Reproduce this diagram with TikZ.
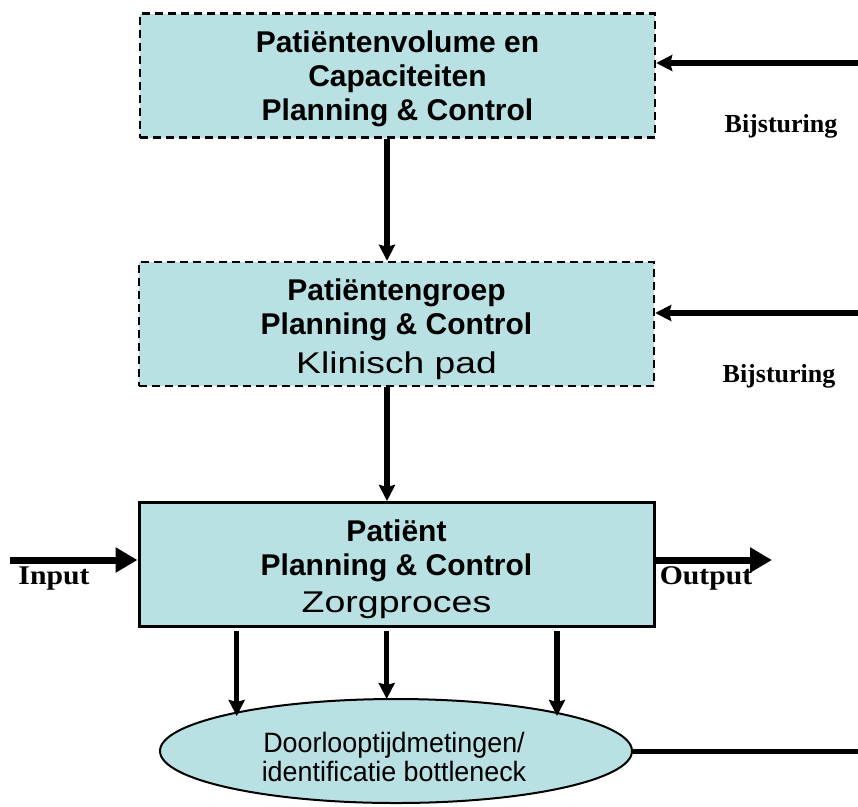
\documentclass[tikz,border=0pt]{standalone}
\usepackage{fontspec}
\setmainfont{Liberation Serif}
\setsansfont{Liberation Sans}
\usetikzlibrary{arrows.meta,shapes.geometric}
\definecolor{boxfill}{RGB}{185,224,227}
\tikzset{
  pbox/.style={draw=black, fill=boxfill, minimum width=515pt, minimum height=124pt, inner sep=0pt},
  dashbox/.style={pbox, line width=2.4pt, dash pattern=on 8pt off 5pt},
  solidbox/.style={pbox, line width=3pt},
  boxtext/.style={align=center, inner sep=0pt, font=\sffamily\bfseries\fontsize{30}{34}\selectfont},
  ellnode/.style={draw=black, fill=boxfill, ellipse, line width=2pt, minimum width=472pt, minimum height=104pt, inner sep=0pt},
  elltext/.style={align=center, inner sep=0pt,
    font=\sffamily\fontsize{28}{29}\selectfont\addfontfeature{FakeStretch=0.96}},
  arr/.style={line width=5.5pt, -{Stealth[length=16pt,width=16pt,inset=2pt]}},
  bigarr/.style={line width=7pt, -{Triangle[length=22pt,width=24pt]}},
  plain/.style={line width=5pt},
  lbl/.style={font=\rmfamily\bfseries\fontsize{26}{30}\selectfont, anchor=base, inner sep=0pt},
  iolbl/.style={font=\rmfamily\bfseries\fontsize{27}{30}\selectfont\addfontfeature{FakeStretch=1.1}, anchor=base, inner sep=0pt}
}
\begin{document}
\begin{tikzpicture}[x=1pt,y=-1pt]
\useasboundingbox (0,0) rectangle (858,806);

\node[dashbox] (b1) at (397.5,75.5) {};
\node[boxtext] (b1t) at (397.5,79) {Patiëntenvolume en\\Capaciteiten\\Planning \& Control};
\node[dashbox] (b2) at (396.5,324) {};
\node[boxtext] (b2t) at (396.5,329) {Patiëntengroep\\Planning \& Control\\[5pt]{\mdseries\fontsize{30}{34}\selectfont\addfontfeature{FakeStretch=1.24}Klinisch pad}};
\node[solidbox] (b3) at (396.5,564.5) {};
\node[boxtext] (b3t) at (396.5,569.5) {Patiënt\\Planning \& Control\\[3pt]{\mdseries\fontsize{30}{34}\selectfont\addfontfeature{FakeStretch=1.25}Zorgproces}};
\node[ellnode] (ell) at (396,751) {};
\node[elltext] (ellt) at (394,757) {Doorlooptijdmetingen/\\identificatie bottleneck};

% coordinates
\coordinate (vx) at (387,0);
\coordinate (r1) at (858,63);
\coordinate (r2) at (858,313);
\coordinate (in0) at (10,560);
\coordinate (out0) at (772,560);
\coordinate (e1) at (858,751);
\coordinate (a1) at (236.7,0);
\coordinate (a2) at (386.7,0);
\coordinate (a3) at (557,0);
\coordinate (t1) at (236.7,716);
\coordinate (t2) at (386.7,699);
\coordinate (t3) at (557,716);

% vertical connectors
\draw[arr] (b1.south -| vx) -- (b2.north -| vx);
\draw[arr] (b2.south -| vx) -- (b3.north -| vx);

% feedback arrows
\draw[arr] (r1) -- (b1.east |- r1);
\draw[arr] (r2) -- (b2.east |- r2);

% input / output
\draw[bigarr] (in0) -- (b3.west |- in0);
\draw[bigarr] (b3.east |- out0) -- (out0);

% measurement arrows
\draw[arr] ([yshift=-3pt]b3.south -| a1) -- (t1);
\draw[arr] ([yshift=-3pt]b3.south -| a2) -- (t2);
\draw[arr] ([yshift=-3pt]b3.south -| a3) -- (t3);

% line out of the ellipse
\draw[plain] (ell.east) -- (e1);

% labels
\node[lbl] (bs1) at (781,132) {Bijsturing};
\node[lbl] (bs2) at (779,382) {Bijsturing};
\node[iolbl] (inl) at (54,584) {Input};
\node[iolbl] (outl) at (706,584) {Output};
\end{tikzpicture}
\end{document}
